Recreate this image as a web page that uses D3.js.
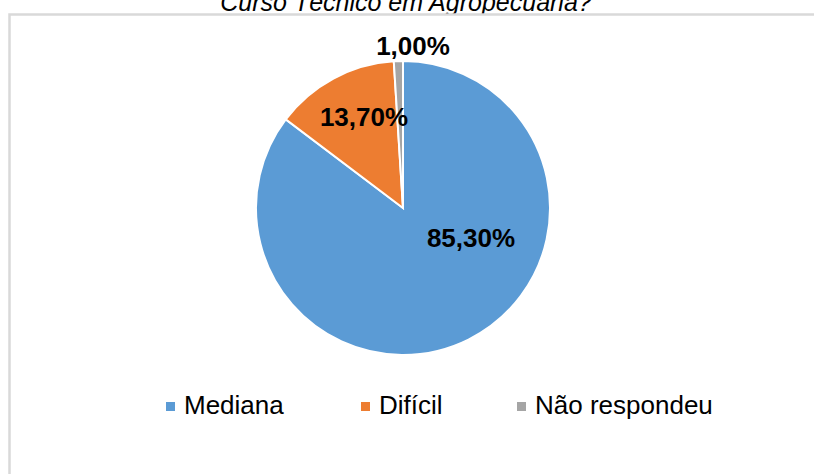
<!DOCTYPE html>
<html lang="pt">
<head>
  <meta charset="UTF-8">
  <title>Curso Técnico em Agropecuária?</title>
  <script src="https://d3js.org/d3.v7.min.js"></script>
  <style>
    body { margin: 0; background: #fff; }
    svg { display: block; font-family: Arial, 'Liberation Sans', sans-serif; }
  </style>
</head>
<body>
<div id="chart"></div>
<script>
  // data
  var categories = ['Mediana', 'Difícil', 'Não respondeu'];
  var values = [85.3, 13.7, 1.0];
  var labels = ['85,30%', '13,70%', '1,00%'];
  var colors = ['#5B9BD5', '#ED7D31', '#A5A5A5'];

  var WIDTH = 814, HEIGHT = 474,
    CX = 403, CY = 208, RADIUS = 147;

  var svg = d3.select('#chart').append('svg')
    .attr('width', WIDTH)
    .attr('height', HEIGHT);

  // title, mostly cut off at the top
  svg.append('text')
    .attr('x', 406)
    .attr('y', 11)
    .attr('text-anchor', 'middle')
    .style('font-style', 'italic')
    .style('font-size', '25px')
    .attr('fill', '#000')
    .text('Curso Técnico em Agropecuária?');

  // chart area frame
  svg.append('rect')
    .attr('x', 9.5)
    .attr('y', 14.5)
    .attr('width', WIDTH + 20)
    .attr('height', HEIGHT + 20)
    .attr('fill', '#fff')
    .attr('stroke', '#d9d9d9')
    .attr('stroke-width', 2.5);

  var pie = d3.pie().sort(null).value(function (d) { return d; });
  var arcs = pie(values);
  var arc = d3.arc().innerRadius(0).outerRadius(RADIUS);

  var g = svg.append('g')
    .attr('transform', 'translate(' + CX + ',' + CY + ')');

  g.selectAll('path')
    .data(arcs)
    .enter()
    .append('path')
    .attr('d', arc)
    .attr('fill', function (d, i) { return colors[i]; })
    .attr('stroke', '#fff')
    .attr('stroke-width', 2);

  // data labels, best-fit placement like the original (offset from the pie centre)
  var labelOffset = [[68, 30], [-39, -91], [10, -162]];
  g.selectAll('text.lbl')
    .data(arcs)
    .enter()
    .append('text')
    .attr('class', 'lbl')
    .attr('transform', function (d, i) {
      return 'translate(' + labelOffset[i][0] + ',' + labelOffset[i][1] + ')';
    })
    .attr('dy', '0.35em')
    .attr('text-anchor', 'middle')
    .style('font-size', '26px')
    .style('font-weight', 'bold')
    .attr('fill', '#000')
    .text(function (d, i) { return labels[i]; });

  // legend
  var legendX = [166, 361, 517];
  var legend = svg.selectAll('g.legend')
    .data(categories)
    .enter()
    .append('g')
    .attr('class', 'legend')
    .attr('transform', function (d, i) { return 'translate(' + legendX[i] + ',402)'; });

  legend.append('rect')
    .attr('width', 9)
    .attr('height', 9)
    .attr('fill', function (d, i) { return colors[i]; });

  legend.append('text')
    .attr('x', 18)
    .attr('y', 12)
    .style('font-size', '26px')
    .attr('fill', '#000')
    .text(function (d) { return d; });
</script>
</body>
</html>
